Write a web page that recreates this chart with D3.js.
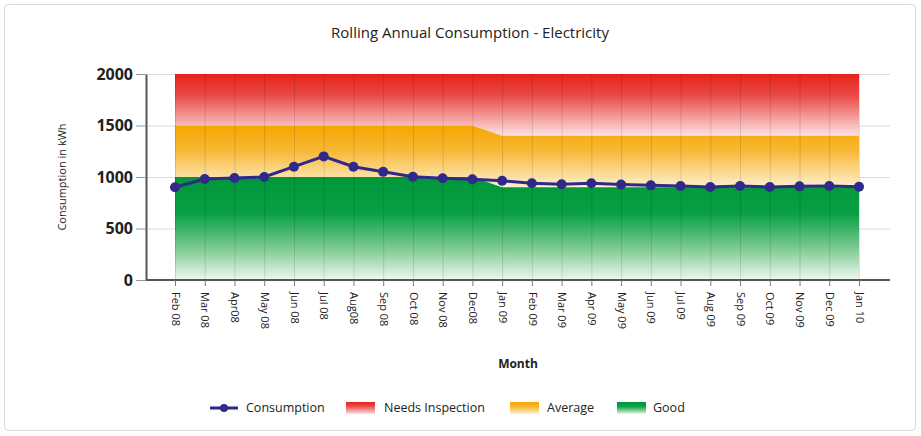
<!DOCTYPE html>
<html>
<head>
<meta charset="utf-8">
<script src="https://cdn.jsdelivr.net/npm/d3@7"></script>
<style>
body { margin: 0; background: #fff; font-family: "Open Sans", "Noto Sans", sans-serif; }
.tick text { font-family: "Open Sans", sans-serif; }
</style>
</head>
<body>
<svg width="921" height="436"></svg>
<script>
var months = ["Feb 08","Mar 08","Apr08","May 08","Jun 08","Jul 08","Aug08","Sep 08","Oct 08","Nov 08","Dec08","Jan 09",
              "Feb 09","Mar 09","Apr 09","May 09","Jun 09","Jul 09","Aug 09","Sep 09","Oct 09","Nov 09","Dec 09","Jan 10"];
var consumption = [900, 980, 990, 1000, 1100, 1200, 1100, 1050, 1003, 987, 977, 964,
                   939, 929, 939, 926, 919, 913, 903, 913, 903, 909, 913, 906];
var goodTop = [1000,1000,1000,1000,1000,1000,1000,1000,1000,1000,1000,900,
               900,900,900,900,900,900,900,900,900,900,900,900];
var averageTop = [1500,1500,1500,1500,1500,1500,1500,1500,1500,1500,1500,1400,
                  1400,1400,1400,1400,1400,1400,1400,1400,1400,1400,1400,1400];
var inspectTop = [2000,2000,2000,2000,2000,2000,2000,2000,2000,2000,2000,2000,
                  2000,2000,2000,2000,2000,2000,2000,2000,2000,2000,2000,2000];
var yTicks = [0, 500, 1000, 1500, 2000];

var svg = d3.select("svg");
var margin = { left: 146, top: 74, right: 31, bottom: 156 };
var chartWidth = 921 - margin.left - margin.right,
    chartHeight = 436 - margin.top - margin.bottom;

// outer frame
svg.append("rect").attr("x", 4.5).attr("y", 4.5).attr("width", 911).attr("height", 426)
    .attr("rx", 4).attr("fill", "#fff").attr("stroke", "#d9d9d9");

var x = d3.scalePoint().domain(months).range([29, 713]);
var y = d3.scaleLinear().domain([0, 2000]).range([chartHeight, 0]);

var defs = svg.append("defs");
var addGrad = function(id, stops) {
    var g = defs.append("linearGradient").attr("id", id)
        .attr("x1", 0).attr("y1", 0).attr("x2", 0).attr("y2", 1);
    stops.forEach(function(s) {
        g.append("stop").attr("offset", s[0]).attr("stop-color", s[1]);
    });
};
addGrad("gRed", [[0, "#e5231b"], [0.35, "#ea4a45"], [1, "#fbe3e4"]]);
addGrad("gOrange", [[0, "#f6a600"], [0.4, "#f8b734"], [1, "#fdf0cf"]]);
addGrad("gGreen", [[0, "#00973a"], [0.35, "#08a044"], [0.7, "#7fcb93"], [1, "#f0f8f1"]]);

var g = svg.append("g").attr("transform", "translate(" + margin.left + "," + margin.top + ")");

// horizontal grid
g.append("g").attr("class", "grid")
    .call(d3.axisLeft(y).tickValues(yTicks).tickSize(-(chartWidth)).tickFormat(""))
    .call(function(s) { s.select(".domain").remove(); s.selectAll("line").attr("stroke", "#dcdcdc"); });

// bands
var idx = d3.range(months.length);
var band = function(lo, hi, fill) {
    var a = d3.area()
        .x(function(i) { return x(months[i]); })
        .y0(function(i) { return y(lo ? lo[i] : 0); })
        .y1(function(i) { return y(hi[i]); });
    g.append("path").datum(idx).attr("d", a).attr("fill", fill);
};
band(averageTop, inspectTop, "url(#gRed)");
band(goodTop, averageTop, "url(#gOrange)");
band(null, goodTop, "url(#gGreen)");

// vertical grid over bands
g.append("g").attr("transform", "translate(0," + chartHeight + ")")
    .call(d3.axisBottom(x).tickSize(-chartHeight).tickFormat(""))
    .call(function(s) { s.select(".domain").remove(); s.selectAll("line").attr("stroke", "#000").attr("stroke-opacity", 0.12); });

// axes
var yAxis = g.append("g")
    .call(d3.axisLeft(y).tickValues(yTicks).tickFormat(d3.format("d")).tickSize(10).tickSizeOuter(0).tickPadding(3));
yAxis.select(".domain").attr("stroke", "#555").attr("stroke-width", 2);
yAxis.selectAll("line").attr("stroke", "#999");
yAxis.selectAll("text").attr("font-size", "16px").attr("font-weight", "bold").attr("fill", "#222");

var xAxis = g.append("g").attr("transform", "translate(0," + chartHeight + ")")
    .call(d3.axisBottom(x).tickSize(6).tickSizeOuter(0));
xAxis.select(".domain").attr("d", "M0,0H" + chartWidth).attr("stroke", "#555").attr("stroke-width", 2);
xAxis.selectAll("line").attr("stroke", "#777");
xAxis.selectAll("text")
    .attr("font-size", "11px").attr("fill", "#222")
    .attr("transform", "rotate(90)")
    .attr("x", 12).attr("y", 0).attr("dy", "0.35em")
    .style("text-anchor", "start");

// consumption line
var line = d3.line()
    .x(function(d, i) { return x(months[i]); })
    .y(function(d) { return y(d); });
g.append("path").datum(consumption).attr("d", line)
    .attr("fill", "none").attr("stroke", "#2f2a8a").attr("stroke-width", 3);
g.selectAll(".pt").data(consumption).enter().append("circle")
    .attr("class", "pt")
    .attr("cx", function(d, i) { return x(months[i]); })
    .attr("cy", function(d) { return y(d); })
    .attr("r", 5).attr("fill", "#2f2a8a");

// titles
svg.append("text").attr("x", 470).attr("y", 38).attr("text-anchor", "middle")
    .attr("font-size", "15px").attr("fill", "#222").text("Rolling Annual Consumption - Electricity");
svg.append("text").attr("transform", "translate(66," + (margin.top + chartHeight / 2) + ") rotate(-90)")
    .attr("text-anchor", "middle").attr("font-size", "11px").attr("fill", "#222").text("Consumption in kWh");
svg.append("text").attr("x", 518).attr("y", 368).attr("text-anchor", "middle")
    .attr("font-size", "12px").attr("font-weight", "bold").attr("fill", "#222").text("Month");

// legend
var legend = svg.append("g").attr("transform", "translate(0,408)");
legend.append("line").attr("x1", 210).attr("x2", 238).attr("y1", 0).attr("y2", 0)
    .attr("stroke", "#2f2a8a").attr("stroke-width", 3);
legend.append("circle").attr("cx", 224).attr("cy", 0).attr("r", 4).attr("fill", "#2f2a8a");
legend.append("text").attr("x", 246).attr("y", 0).attr("dy", "0.35em").attr("font-size", "12.5px").attr("fill", "#222").text("Consumption");
var swatches = [[346, "url(#gRed)", 384, "Needs Inspection"], [510, "url(#gOrange)", 547, "Average"], [617, "url(#gGreen)", 653, "Good"]];
swatches.forEach(function(s) {
    legend.append("rect").attr("x", s[0]).attr("y", -6).attr("width", 29).attr("height", 12).attr("fill", s[1]);
    legend.append("text").attr("x", s[2]).attr("y", 0).attr("dy", "0.35em").attr("font-size", "12.5px").attr("fill", "#222").text(s[3]);
});
</script>
</body>
</html>
